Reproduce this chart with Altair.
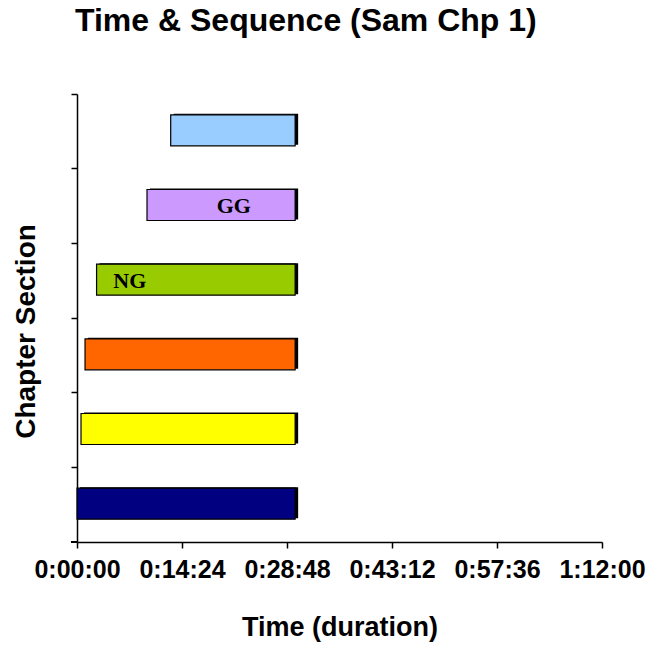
import json
import altair as alt
import pandas as pd

# ---- data ----
sections = ["Section 6", "Section 5", "Section 4", "Section 3", "Section 2", "Section 1"]  # top -> bottom
start_sec = [771, 576, 161, 66, 33, 0]
end_sec = [1795, 1795, 1795, 1795, 1795, 1795]
colors = ["#99CCFF", "#CC99FF", "#99CC00", "#FF6600", "#FFFF00", "#000080"]

bar_labels = ["GG", "NG"]
bar_label_sections = ["Section 5", "Section 4"]
bar_label_sec = [1290, 434]

tick_values = [0, 864, 1728, 2592, 3456, 4320]
tick_labels = ["0:00:00", "0:14:24", "0:28:48", "0:43:12", "0:57:36", "1:12:00"]

title_text = "Time & Sequence (Sam Chp 1)"
x_title = "Time (duration)"
y_title = "Chapter Section"

df = pd.DataFrame({"section": sections, "start": start_sec, "end": end_sec, "color": colors})
lab = pd.DataFrame({"section": bar_label_sections, "pos": bar_label_sec, "text": bar_labels})

label_expr = json.dumps(tick_labels) + "[round(datum.value / 864)]"

W, H = 525, 448
sans = "Liberation Sans, Arial"

x_scale = alt.Scale(domain=[0, 4320], nice=False, zero=False)
y_scale = alt.Scale(domain=sections, paddingInner=0, paddingOuter=0)

x_axis = alt.Axis(
    values=tick_values, labelExpr=label_expr, title=x_title, grid=False,
    domainColor="black", tickColor="black", domainWidth=1.5, tickWidth=1.5, tickSize=6,
    labelFont=sans, labelFontSize=25, labelFontWeight="bold", labelColor="black",
    labelPadding=9, labelFlush=False, labelOverlap=False,
    titleFont=sans, titleFontSize=27, titleFontWeight="bold", titleColor="black",
    titlePadding=32,
)
y_axis = alt.Axis(
    labels=False, title=y_title, grid=False, bandPosition=0,
    domainColor="black", tickColor="black", domainWidth=1.5, tickWidth=1.5, tickSize=6,
    titleFont=sans, titleFontSize=28, titleFontWeight="bold", titleColor="black",
    titleX=-43, titleY=237, titleAlign="center", titleBaseline="alphabetic",
)

shadow = alt.Chart(df).mark_bar(
    height=31, color="black", xOffset=3, x2Offset=3, yOffset=-2
).encode(
    x=alt.X("start:Q", scale=x_scale, axis=x_axis),
    x2="end:Q",
    y=alt.Y("section:N", scale=y_scale, axis=y_axis, sort=sections),
)
bars = alt.Chart(df).mark_bar(height=31, stroke="black", strokeWidth=1.2, yOffset=-1).encode(
    x=alt.X("start:Q", scale=x_scale),
    x2="end:Q",
    y=alt.Y("section:N", scale=y_scale, sort=sections),
    color=alt.Color("color:N", scale=None, legend=None),
)
texts = alt.Chart(lab).mark_text(
    font="Liberation Serif", fontSize=22, fontWeight="bold", color="black", yOffset=0
).encode(
    x=alt.X("pos:Q", scale=x_scale),
    y=alt.Y("section:N", scale=y_scale, sort=sections),
    text="text:N",
)
bottom_tick = alt.Chart(df).mark_rule(color="black", strokeWidth=1.5).encode(
    x=alt.value(-6), x2=alt.value(0), y=alt.value(H)
)

chart = (
    alt.layer(shadow, bars, texts, bottom_tick)
    .properties(
        width=W, height=H,
        view=alt.ViewBackground(strokeWidth=0, strokeOpacity=0),
        title=alt.TitleParams(
            title_text, anchor="start", frame="group", dx=-2, offset=30,
            font=sans, fontSize=32, fontWeight="bold", color="black",
            baseline="alphabetic",
        ),
        autosize=alt.AutoSizeParams(type="none"),
        padding={"left": 77, "top": 94, "right": 45, "bottom": 103},
    )
    .configure_view(stroke=None, strokeWidth=0)
    .configure(background="white")
)

chart.save("out.html", embed_options={"renderer": "svg", "actions": False})
